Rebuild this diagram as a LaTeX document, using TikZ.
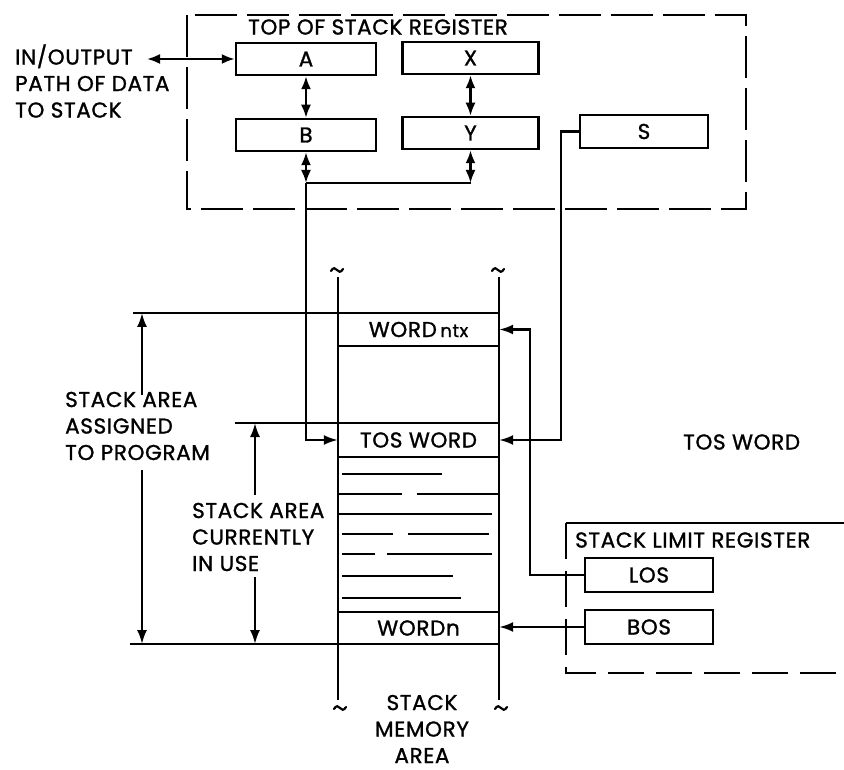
\documentclass[tikz,border=0pt]{standalone}
\usepackage{fontspec}
\setmainfont{Poppins}[FakeBold=1.2, LetterSpace=3]
\usetikzlibrary{arrows.meta}
\newcommand\lblfont{\fontsize{21.5}{26.5}\selectfont}
\newcommand\smlfont{\fontsize{18}{20}\selectfont}
\begin{document}
\begin{tikzpicture}[x=1pt,y=-1pt,
  reg/.style={draw, line width=2.5pt, minimum height=32pt, inner sep=0pt, font=\lblfont},
  cell/.style={inner sep=0pt, minimum width=161pt, font=\lblfont},
  lbl/.style={inner sep=0pt, align=left, font=\lblfont},
  conn/.style={line width=2.2pt},
  arr/.style={conn, -{Latex[length=14pt,width=10pt]}},
  darr/.style={conn, {Latex[length=13pt,width=10pt]}-{Latex[length=13pt,width=10pt]}},
  frameA/.style={line width=2.5pt, dash pattern=on 42pt off 10pt},
  frameB/.style={line width=2.5pt, dash pattern=on 36pt off 12pt},
  tildestroke/.style={line width=2.2pt, line cap=round}
]
\useasboundingbox (0,0) rectangle (844,770);

% ---------- top of stack register frame
\draw[frameA] (187,15) rectangle (746,209);
\node[lbl, anchor=west] (tsr) at (248,27) {TOP OF STACK REGISTER};

\node[reg, minimum width=140pt] (A) at (306,59) {A};
\node[reg, minimum width=136pt] (X) at (470.5,58) {X};
\node[reg, minimum width=140pt] (B) at (306,135) {B};
\node[reg, minimum width=136pt] (Y) at (470.5,133) {Y};
\node[reg, minimum width=128pt, minimum height=33pt] (S) at (644,131.5) {S};

\node[lbl, anchor=west] (io) at (15,81) {IN/OUTPUT\\PATH OF DATA\\TO STACK};
\coordinate (ioend) at (147,59);
\draw[darr] (ioend) -- (A.west);

\draw[darr] (A.south) -- (B.north);
\draw[darr] (X.south) -- (Y.north);
\coordinate (jB) at (306,183);
\coordinate (jY) at (470.5,183);
\draw[darr] (B.south) -- (jB);
\draw[darr] (Y.south) -- (jY);
\draw[conn] (jB) -- (jY);

% ---------- stack memory
\draw[conn] (338,277) -- (338,700);
\draw[conn] (499,277) -- (499,700);
\foreach \tx/\ty in {337/270, 498/270, 340/708, 501/708}
  \draw[tildestroke] (\tx-6,\ty+1) .. controls (\tx-4,\ty-3) and (\tx-1,\ty-2) .. (\tx,\ty)
        .. controls (\tx+1,\ty+2) and (\tx+4,\ty+3) .. (\tx+6,\ty-1);

\node[cell, minimum height=33pt] (wntx) at (418.5,329.5) {WORD\,{\smlfont ntx}};
\node[cell, minimum height=34pt] (tos) at (418.5,440) {TOS WORD};
\node[cell, minimum height=32pt] (wn) at (418.5,628) {WORDn};

\draw[conn] (133,313) -- (499,313);
\draw[conn] (338,346) -- (499,346);
\draw[conn] (235,423) -- (499,423);
\draw[conn] (338,457) -- (499,457);
\draw[conn] (342,474) -- (442,474);
\draw[conn] (338,494) -- (402,494);
\draw[conn] (417,494) -- (499,494);
\draw[conn] (338,514) -- (492,514);
\draw[conn] (342,534) -- (393,534);
\draw[conn] (408,534) -- (489,534);
\draw[conn] (342,554) -- (375,554);
\draw[conn] (387,554) -- (492,554);
\draw[conn] (342,576) -- (453,576);
\draw[conn] (342,598) -- (461,598);
\draw[conn] (338,612) -- (499,612);
\draw[conn] (130,644) -- (499,644);

\node[lbl, align=center] (sma) at (422,729) {STACK\\MEMORY\\AREA};

% ---------- dimension arrows
\node[lbl, anchor=west] (assigned) at (65,426) {STACK AREA\\ASSIGNED\\TO PROGRAM};
\node[lbl, anchor=west] (inuse) at (192,537) {STACK AREA\\CURRENTLY\\IN USE};
\coordinate (d1a) at (142,313);
\coordinate (d1b) at (142,644);
\coordinate (d2a) at (255,423);
\coordinate (d2b) at (255,644);
\draw[arr] (142,395) -- (d1a);
\draw[arr] (142,470) -- (d1b);
\draw[arr] (255,495) -- (d2a);
\draw[arr] (255,577) -- (d2b);

% ---------- connectors into stack
\draw[arr] (jB) |- (tos.west);
\draw[arr] (S.west) -- ++(-18,0) |- (tos.east);

\node[lbl, anchor=west] (tosr) at (683,442) {TOS WORD};

% ---------- stack limit register
\draw[line width=2.5pt] (844,523) -- (566,523);
\draw[frameB] (566,523) -- (566,673) -- (844,673);
\node[lbl, anchor=west] (slr) at (575,540) {STACK LIMIT REGISTER};
\node[reg, minimum width=128pt, minimum height=34pt] (los) at (649,575) {LOS};
\node[reg, minimum width=128pt, minimum height=34pt] (bos) at (649,627) {BOS};

\draw[arr] (los.west) -- ++(-54,0) |- (wntx.east);
\draw[arr] (bos.west) -- (bos.west -| wn.east);
\end{tikzpicture}
\end{document}
